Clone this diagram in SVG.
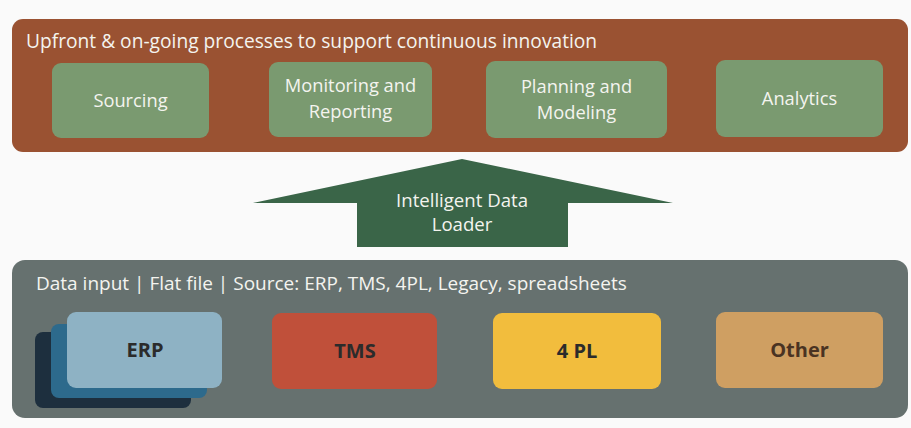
<svg xmlns="http://www.w3.org/2000/svg" width="911" height="428" viewBox="0 0 911 428">
<style>
.t{font-family:"Open Sans","Noto Sans",sans-serif;fill:#f4f4ef}
.h{font-size:19.2px}
.h2{font-size:19px}
.g{fill:#7a9a70}
.gl{font-size:18.3px;text-anchor:middle}
.al{font-size:18.6px;text-anchor:middle}
.b{font-family:"Open Sans","Noto Sans",sans-serif;font-weight:700;font-size:20px;text-anchor:middle;fill:#2b2b2b}
</style>
<rect width="911" height="428" fill="#fafafa"/>
<g id="top-panel">
<rect x="12" y="19" width="896" height="133" rx="11" fill="#9a5232"/>
<text class="t h" x="26" y="48">Upfront &amp; on-going processes to support continuous innovation</text>
</g>
<g id="sourcing"><rect class="g" x="52" y="63" width="157" height="75" rx="9"/><text class="t gl" x="130.5" y="107">Sourcing</text></g>
<g id="monitoring"><rect class="g" x="269" y="62" width="163" height="75" rx="9"/><text class="t gl" x="350.5" y="92">Monitoring and</text><text class="t gl" x="350.5" y="118">Reporting</text></g>
<g id="planning"><rect class="g" x="486" y="61" width="181" height="77" rx="9"/><text class="t gl" x="576.5" y="93">Planning and</text><text class="t gl" x="576.5" y="119">Modeling</text></g>
<g id="analytics"><rect class="g" x="716" y="60" width="167" height="77" rx="9"/><text class="t gl" x="799.5" y="105">Analytics</text></g>
<g id="connectors">
<g id="loader-arrow">
<polygon points="462,159 673,203 568,203 568,247 357,247 357,203 253,203" fill="#3a6548"/>
<text class="t al" x="462" y="207">Intelligent Data</text>
<text class="t al" x="462" y="231">Loader</text>
</g>
</g>
<g id="bottom-panel">
<rect x="12" y="260" width="896" height="158" rx="13" fill="#66716f"/>
<text class="t h2" x="36" y="290">Data input | Flat file | Source: ERP, TMS, 4PL, Legacy, spreadsheets</text>
</g>
<g id="erp">
<rect x="35" y="332" width="156" height="76" rx="8" fill="#1d2f3e"/>
<rect x="51" y="324" width="156" height="74" rx="8" fill="#2d6a8c"/>
<rect x="67" y="312" width="155" height="76" rx="9" fill="#8eb2c4"/>
<text class="b" x="145" y="357">ERP</text>
</g>
<g id="tms"><rect x="272" y="313" width="165" height="76" rx="9" fill="#c0503a"/><text class="b" x="355" y="358">TMS</text></g>
<g id="fourpl"><rect x="493" y="313" width="168" height="76" rx="9" fill="#f2bd3d"/><text class="b" x="577" y="358">4 PL</text></g>
<g id="other"><rect x="716" y="312" width="167" height="76" rx="9" fill="#cf9f62"/><text class="b" x="799.5" y="357" style="fill:#4a3322">Other</text></g>
</svg>
